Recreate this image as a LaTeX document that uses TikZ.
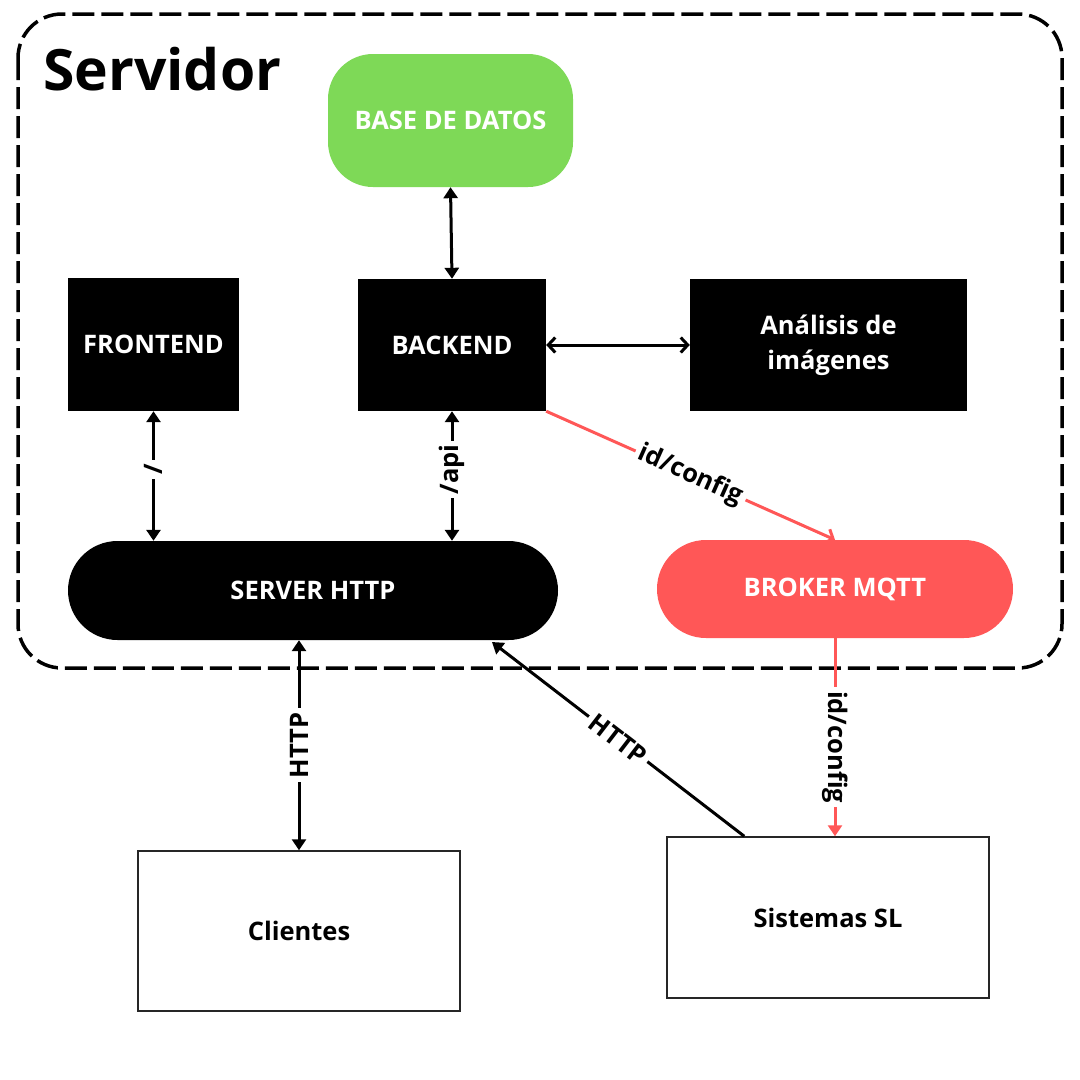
\documentclass[tikz,border=0pt]{standalone}
\usepackage{fontspec}
\setmainfont{Open Sans}
\usetikzlibrary{arrows.meta,calc}
\definecolor{dbgreen}{HTML}{7ED957}
\definecolor{mqred}{HTML}{FF5757}
\tikzset{
  blk/.style={fill=black, text=white, font=\fontsize{25.5}{35}\selectfont\bfseries, align=center, inner sep=0pt},
  whitebox/.style={draw=black!85, line width=1.5pt, fill=white, font=\fontsize{25.5}{35}\selectfont\bfseries, inner sep=0pt},
  lbl/.style={fill=white, font=\fontsize{25.5}{30}\selectfont\bfseries, inner sep=4pt},
  conn/.style={line width=3pt},
  tri/.tip={Triangle[length=11pt,width=14pt]},
  barb/.tip={Straight Barb[length=7pt,width=15pt,line width=3pt]},
}
\begin{document}
\begin{tikzpicture}[x=1pt,y=-1pt]
\useasboundingbox (0,0) rectangle (1080,1080);
\fill[white] (0,0) rectangle (1080,1080);
% container
\draw[line width=3.5pt, dash pattern=on 22pt off 7pt, rounded corners=44pt] (18,14) rectangle (1062,668);
\node[anchor=base west, font=\fontsize{57}{64}\selectfont\bfseries, inner sep=0pt] (title) at (43,90) {Servidor};
% nodes
\node[blk, fill=dbgreen, minimum width=245pt, minimum height=133pt, rounded corners=45pt] (db) at (450.5,120.5) {BASE DE DATOS};
\node[blk, minimum width=171pt, minimum height=133pt] (front) at (153.5,344.5) {FRONTEND};
\node[blk, minimum width=188pt, minimum height=132pt] (back) at (452,345) {BACKEND};
\node[blk, minimum width=277pt, minimum height=132pt] (ana) at (828.5,345) {Análisis de\\imágenes};
\node[blk, minimum width=490pt, minimum height=99pt, rounded corners=49.5pt] (srv) at (313,590.5) {SERVER HTTP};
\node[blk, fill=mqred, minimum width=356pt, minimum height=98pt, rounded corners=49pt] (brk) at (835,589) {BROKER MQTT};
\node[whitebox, minimum width=322pt, minimum height=160pt] (cli) at (299,931) {Clientes};
\node[whitebox, minimum width=322pt, minimum height=161pt] (sis) at (828,917.5) {Sistemas SL};
% connectors
\draw[conn, tri-tri] (db.south) -- (back.north);
\draw[conn, barb-barb] (back.east) -- (ana.west);
\draw[conn, tri-tri] (front.south) -- (front.south |- srv.north) node[lbl, pos=0.45, rotate=90] {/};
\draw[conn, tri-tri] (back.south) -- (back.south |- srv.north) node[lbl, pos=0.45, rotate=90] {/api};
\draw[conn, mqred, -barb] (back.south east) -- (brk.north) node[lbl, midway, sloped, text=black] {id/config};
\draw[conn, tri-tri] (cli.north |- srv.south) -- (cli.north) node[lbl, midway, rotate=90] {HTTP};
\coordinate (sisA) at ($(sis.north west)+(78,0)$);
\coordinate (srvB) at (492,642);
\draw[conn, -tri] (sisA) -- (srvB) node[lbl, midway, sloped] {HTTP};
\draw[conn, mqred, -tri] (brk.south) -- (brk.south |- sis.north) node[lbl, pos=0.55, rotate=-90, text=black] {id/config};
\end{tikzpicture}
\end{document}
